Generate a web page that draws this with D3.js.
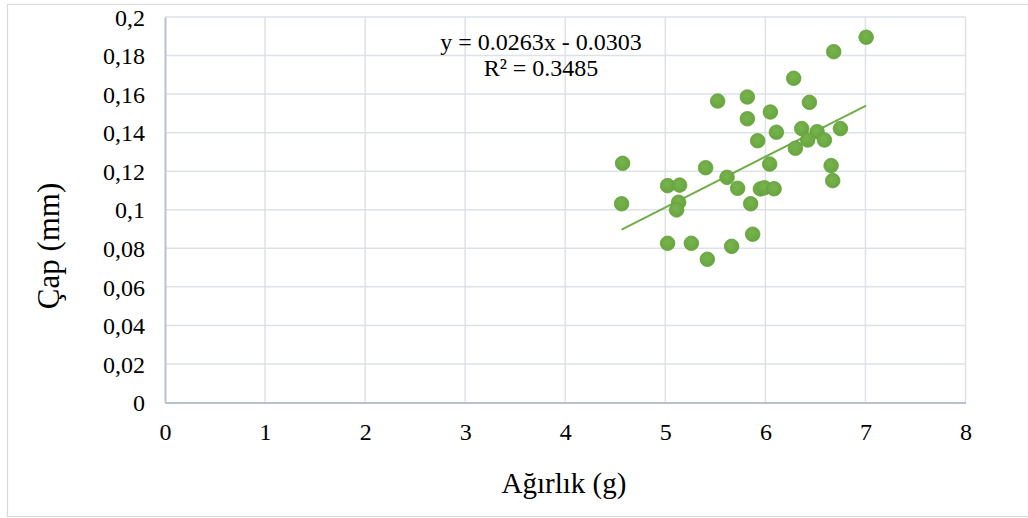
<!DOCTYPE html>
<html>
<head>
<meta charset="utf-8">
<script src="https://cdn.jsdelivr.net/npm/d3@7/dist/d3.min.js"></script>
<style>
  html, body { margin: 0; padding: 0; background: #ffffff; }
  svg { display: block; }
  text { font-family: "Liberation Serif", "Times New Roman", serif; fill: #000; }
</style>
</head>
<body>
<svg id="chart" width="1028" height="518"></svg>
<script>
// ---- data ----
const weightG = [7.007, 6.683, 6.283, 5.523, 5.82, 6.44, 5.82, 6.05, 6.11, 6.363,
  6.517, 6.75, 5.923, 6.30, 6.423, 6.59, 4.573, 4.563, 5.023, 5.143,
  5.403, 5.617, 5.723, 5.133, 5.113, 5.853, 5.95, 5.99, 6.087, 6.043,
  6.657, 6.673, 5.023, 5.26, 5.42, 5.663, 5.873];
const diameterMm = [0.1895, 0.182, 0.1682, 0.1564, 0.1585, 0.1557, 0.1472, 0.1507, 0.1402, 0.1421,
  0.1405, 0.1421, 0.1358, 0.1319, 0.1362, 0.1362, 0.1241, 0.1031, 0.1125, 0.1128,
  0.1218, 0.1168, 0.1111, 0.1039, 0.0999, 0.1031, 0.1108, 0.1114, 0.1109, 0.1237,
  0.1229, 0.1151, 0.0826, 0.0826, 0.0743, 0.0810, 0.0873];
const xTicks = [0, 1, 2, 3, 4, 5, 6, 7, 8];
const yTicks = [0, 0.02, 0.04, 0.06, 0.08, 0.1, 0.12, 0.14, 0.16, 0.18, 0.2];
const trendSlope = 0.0263;
const trendIntercept = -0.0303;
const equationText = "y = 0.0263x - 0.0303";
const r2Text = "R² = 0.3485";
const xTitle = "Ağırlık (g)";
const yTitle = "Çap (mm)";

// ---- layout ----
const svg = d3.select("#chart");
const L = 165, R = 965.5, T = 17, B = 402.5;
const x = d3.scaleLinear().domain([0, 8]).range([L, R]);
const y = d3.scaleLinear().domain([0, 0.2]).range([B, T]);
const green = "#70ad47";
const serif = '"Liberation Serif", "Times New Roman", serif';
const fmtY = v => (v === 0 ? "0" : String(+v.toFixed(2)).replace(".", ","));

// outer frame
svg.append("rect").attr("x", 7.5).attr("y", 4.5).attr("width", 1030).attr("height", 512)
  .attr("fill", "#fff").attr("stroke", "#d9d9d9").attr("stroke-width", 1.2);

// grid
const grid = svg.append("g");
grid.selectAll("line.h").data(yTicks.filter(d => d > 0)).join("line")
  .attr("x1", L).attr("x2", R).attr("y1", d => y(d)).attr("y2", d => y(d))
  .attr("stroke", "#dde1e8").attr("stroke-width", 1.5);
grid.selectAll("line.v").data(xTicks.filter(d => d > 0)).join("line")
  .attr("y1", T).attr("y2", B).attr("x1", d => x(d)).attr("x2", d => x(d))
  .attr("stroke", "#dde1e8").attr("stroke-width", 1.5);

// axes (D3 axes, lines restyled)
const xAxis = svg.append("g").attr("transform", `translate(0,${B})`)
  .call(d3.axisBottom(x).tickValues(xTicks).tickSize(0).tickPadding(37).tickFormat(d3.format("d")));
const yAxis = svg.append("g").attr("transform", `translate(${L},0)`)
  .call(d3.axisLeft(y).tickValues(yTicks).tickSize(0).tickPadding(20).tickFormat(fmtY));
[xAxis, yAxis].forEach(a => {
  a.attr("font-family", serif).attr("font-size", 24);
  a.select(".domain").attr("stroke", "#b7c2d0").attr("stroke-width", 2);
  a.selectAll("text").attr("fill", "#000");
});
xAxis.selectAll("text").attr("dy", "0");
yAxis.selectAll("text").attr("dy", "0.34em");

// trendline
const xr = d3.extent(weightG);
svg.append("line")
  .attr("x1", x(xr[0])).attr("y1", y(trendSlope * xr[0] + trendIntercept))
  .attr("x2", x(xr[1])).attr("y2", y(trendSlope * xr[1] + trendIntercept))
  .attr("stroke", green).attr("stroke-width", 2);

// points
const defs = svg.append("defs");
const grad = defs.append("radialGradient").attr("id", "pg").attr("cx", "45%").attr("cy", "40%").attr("r", "60%");
grad.append("stop").attr("offset", "0%").attr("stop-color", "#78b44e");
grad.append("stop").attr("offset", "100%").attr("stop-color", "#67a53e");
svg.append("g").selectAll("circle").data(weightG.map((w, i) => [w, diameterMm[i]])).join("circle")
  .attr("cx", d => x(d[0])).attr("cy", d => y(d[1])).attr("r", 7.3)
  .attr("fill", "url(#pg)").attr("stroke", "#65a13d").attr("stroke-width", 0.8);

// equation
svg.append("text").attr("x", 541).attr("y", 50).attr("text-anchor", "middle")
  .style("font-size", "24px").text(equationText);
svg.append("text").attr("x", 541).attr("y", 76).attr("text-anchor", "middle")
  .style("font-size", "24px").text(r2Text);

// axis titles
svg.append("text").attr("x", 564).attr("y", 493).attr("text-anchor", "middle")
  .style("font-size", "29px").text(xTitle);
svg.append("text").attr("transform", "translate(59,246) rotate(-90)").attr("text-anchor", "middle")
  .style("font-size", "31px").text(yTitle);
</script>
</body>
</html>
